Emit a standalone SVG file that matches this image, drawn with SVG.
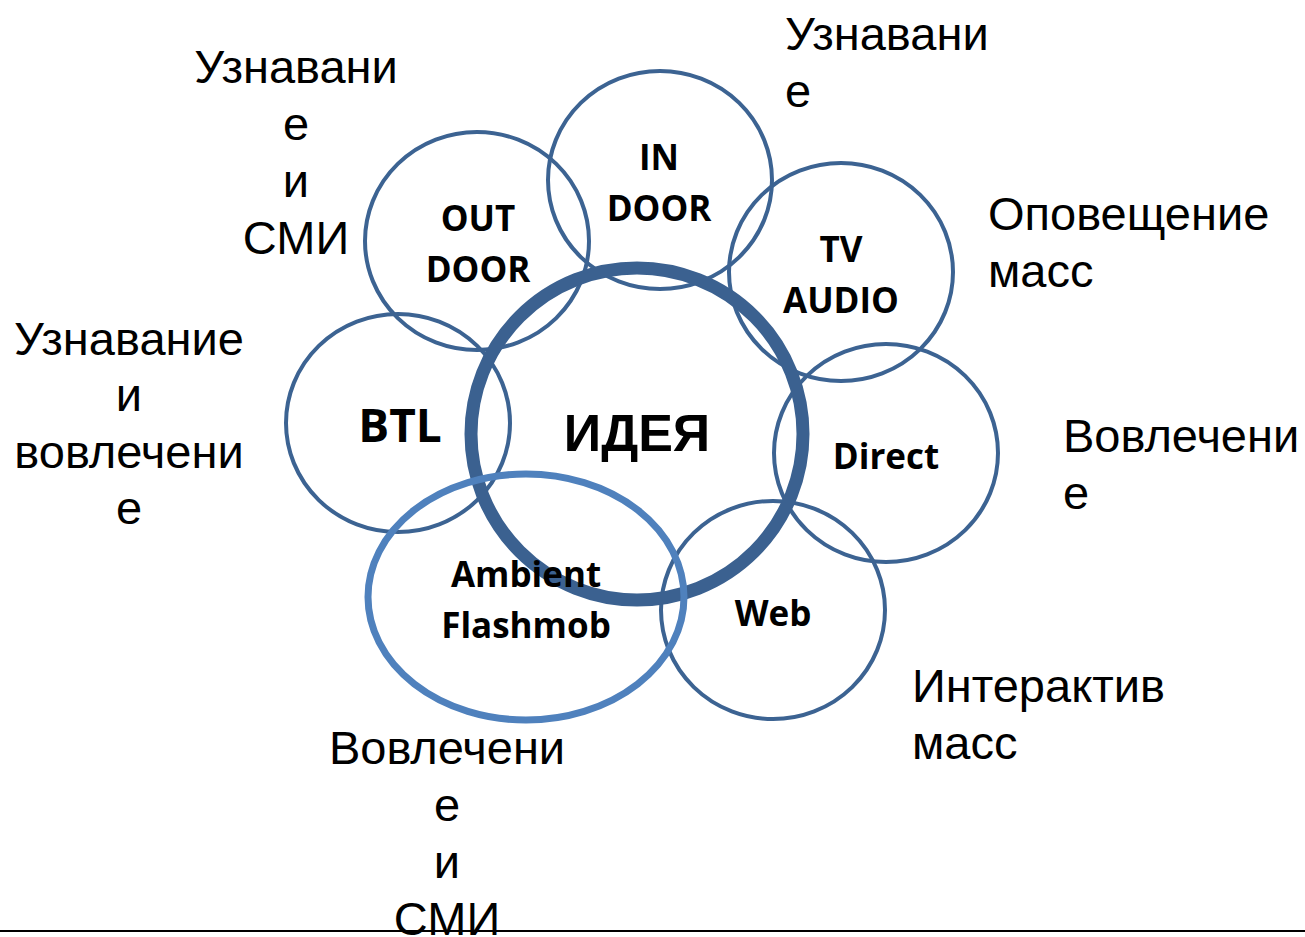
<svg xmlns="http://www.w3.org/2000/svg" width="1305" height="937" viewBox="0 0 1305 937">
<style>
.c{fill:none;stroke:#3C6392;stroke-width:4}
.idea{fill:none;stroke:#3B6190;stroke-width:13}
.amb{fill:none;stroke:#4F81BD;stroke-width:7}
.b{font-family:"Open Sans","Noto Sans",sans-serif;font-weight:bold;font-size:35px;fill:#000;text-anchor:middle}
.big{font-family:"Liberation Sans",Arial,sans-serif;font-weight:bold;font-size:52px;fill:#000;text-anchor:middle}
.t{font-family:"Liberation Sans",Arial,sans-serif;font-size:47px;fill:#000}
.m{text-anchor:middle}
</style>
<rect width="1305" height="937" fill="#fff"/>
<g id="indoor"><ellipse class="c" cx="660" cy="180" rx="112" ry="109"/><text class="b" x="659" y="170">IN</text><text class="b" x="659" y="221">DOOR</text></g>
<g id="outdoor"><ellipse class="c" cx="477" cy="241" rx="112" ry="109"/><text class="b" x="478" y="231">OUT</text><text class="b" x="478" y="282">DOOR</text></g>
<g id="tvaudio"><ellipse class="c" cx="841" cy="272" rx="112" ry="109"/><text class="b" x="841" y="262">TV</text><text class="b" x="841" y="313">AUDIO</text></g>
<g id="btl"><ellipse class="c" cx="398" cy="423" rx="112" ry="109"/><text class="b" x="400" y="442" style="font-size:46px">BTL</text></g>
<g id="direct"><ellipse class="c" cx="886" cy="453" rx="112" ry="109"/><text class="b" x="886" y="469">Direct</text></g>
<g id="web"><ellipse class="c" cx="773" cy="610" rx="112" ry="109"/><text class="b" x="773" y="626">Web</text></g>
<g id="idea"><circle class="idea" cx="637" cy="434" r="166"/><text class="big" x="637" y="451">ИДЕЯ</text></g>
<g id="ambient"><ellipse class="amb" cx="526" cy="597" rx="158" ry="123"/><text class="b" x="526" y="587">Ambient</text><text class="b" x="526" y="638">Flashmob</text></g>
<g id="labels">
<text class="t m" x="296" y="83">Узнавани</text><text class="t m" x="296" y="140">е</text><text class="t m" x="296" y="197">и</text><text class="t m" x="296" y="254">СМИ</text>
<text class="t" x="785" y="50">Узнавани</text><text class="t" x="785" y="107">е</text>
<text class="t" x="988" y="230">Оповещение</text><text class="t" x="988" y="287">масс</text>
<text class="t" x="1063" y="452">Вовлечени</text><text class="t" x="1063" y="509">е</text>
<text class="t" x="912" y="702">Интерактив</text><text class="t" x="912" y="759">масс</text>
<text class="t m" x="129" y="355">Узнавание</text><text class="t m" x="129" y="411">и</text><text class="t m" x="129" y="468">вовлечени</text><text class="t m" x="129" y="524">е</text>
<text class="t m" x="447" y="764">Вовлечени</text><text class="t m" x="447" y="821">е</text><text class="t m" x="447" y="878">и</text><text class="t m" x="447" y="935">СМИ</text>
</g>
<g id="connectors"><line x1="0" y1="931" x2="1305" y2="931" stroke="#000" stroke-width="2"/></g>
</svg>
